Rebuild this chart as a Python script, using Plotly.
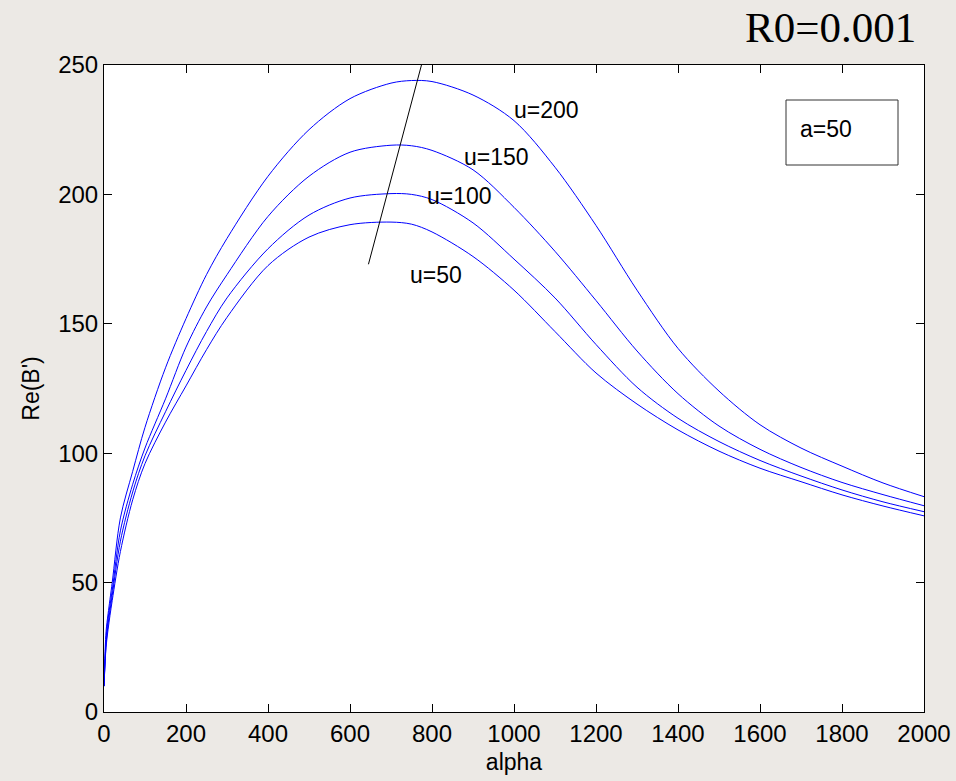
import plotly.graph_objects as go

alpha = [0, 5, 10, 20, 40, 70, 100, 150, 200, 250, 300, 400, 500, 600, 700, 750,
         800, 900, 1000, 1100, 1200, 1300, 1400, 1500, 1600, 1700, 1800, 1900, 2000]

re_u200 = [10, 31, 38, 50, 75, 93, 110, 133, 152, 169, 183, 207, 225, 237, 243, 244,
           243.6, 238.4, 228.5, 210.5, 188, 163, 140.5, 124, 111, 102, 95, 88.5, 83.2]
re_u150 = [10, 28, 36, 47, 70, 88, 102, 121, 141, 156.5, 169, 191.5, 207, 216.3, 219, 218.8,
           217, 209.5, 195, 178, 159, 139.5, 123, 110.5, 101.5, 94.5, 88.7, 84, 79.7]
re_u100 = [10, 26, 34, 45, 66, 85, 99, 116, 132, 147, 160, 179, 192, 198.6, 200.3, 200,
           198, 189, 175, 160, 142, 125.5, 113.5, 104.5, 97.2, 91.2, 85.8, 81.2, 77.4]
re_u50 = [10, 25, 32, 43, 62, 82, 96, 112, 126, 140, 152.5, 172.5, 183.5, 188.3, 189.3, 188.5,
          185.5, 176, 163, 147, 131, 119, 109, 100.8, 94.2, 89, 83.9, 79.6, 75.8]

series_names = ["u=200", "u=150", "u=100", "u=50"]
series_values = [re_u200, re_u150, re_u100, re_u50]

# labels next to each curve
label_alpha = [1080, 958, 868, 810]
label_val = [232.6, 214.5, 199.4, 168.9]

# black line through the maxima
peak_line_alpha = [645, 776]
peak_line_val = [173, 251]

x_ticks = [0, 200, 400, 600, 800, 1000, 1200, 1400, 1600, 1800, 2000]
y_ticks = [0, 50, 100, 150, 200, 250]

FONT = "Arial, Liberation Sans, Helvetica"

fig = go.Figure()
for name, vals in zip(series_names, series_values):
    fig.add_trace(go.Scatter(x=alpha, y=vals, mode="lines", name=name,
                             line=dict(color="#0000FF", width=1, shape="spline", smoothing=0.9),
                             showlegend=False))

fig.add_trace(go.Scatter(x=peak_line_alpha, y=peak_line_val, mode="lines",
                         line=dict(color="black", width=1), showlegend=False,
                         cliponaxis=False))

for name, xa, ya in zip(series_names, label_alpha, label_val):
    fig.add_annotation(x=xa, y=ya, text=name, showarrow=False,
                       xanchor="center", yanchor="middle",
                       font=dict(family=FONT, size=23, color="black"))

# legend-like box
fig.add_shape(type="rect", xref="paper", yref="paper",
              x0=(786 - 104) / 820, x1=(898 - 104) / 820,
              y0=(712 - 165) / 647, y1=(712 - 100) / 647,
              line=dict(color="#333333", width=1), fillcolor="white", layer="above")
fig.add_annotation(xref="paper", yref="paper",
                   x=(798 - 104) / 820, y=(712 - 129) / 647, xanchor="left", yanchor="middle",
                   text="a=50", showarrow=False,
                   font=dict(family=FONT, size=23, color="black"))

fig.add_annotation(xref="paper", yref="paper", x=(918 - 104) / 820, y=1.0, yshift=12,
                   xanchor="right", yanchor="bottom",
                   text="R0=0.001", showarrow=False,
                   font=dict(family="Liberation Serif, Times New Roman", size=43, color="black"))

axis_common = dict(showgrid=False, zeroline=False, showline=True, linecolor="black",
                   linewidth=1, mirror="allticks", ticks="inside", ticklen=8,
                   tickcolor="black", automargin=False,
                   tickfont=dict(family=FONT, size=24, color="black"))

fig.update_xaxes(range=[0, 2000], tickvals=x_ticks, ticktext=[str(v) for v in x_ticks],
                 title=dict(text="alpha", standoff=8,
                            font=dict(family=FONT, size=23, color="black")),
                 **axis_common)
fig.update_yaxes(range=[0, 250], tickvals=y_ticks, ticktext=[str(v) for v in y_ticks],
                 title=dict(text="Re(B')", standoff=12,
                            font=dict(family=FONT, size=23, color="black")),
                 **axis_common)

fig.update_layout(width=956, height=781,
                  margin=dict(l=104, r=32, t=65, b=69),
                  paper_bgcolor="#ECE9E5", plot_bgcolor="white")

fig.write_html("out.html",
               config={"displayModeBar": False},
               post_script="document.body.style.margin='0';document.body.style.padding='0';"
                           "document.body.style.background='#ECE9E5';")
